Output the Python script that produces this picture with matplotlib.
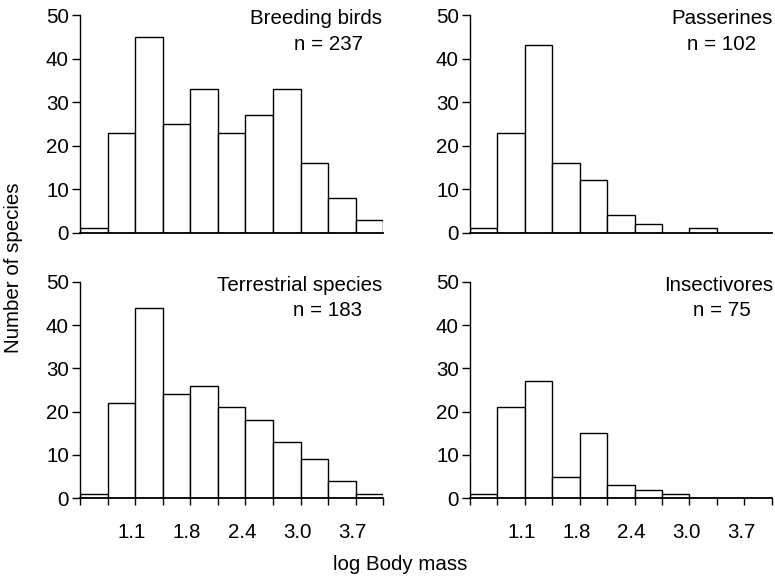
import matplotlib
matplotlib.use("Agg")
import matplotlib.pyplot as plt
import numpy as np

plt.rcParams['font.family'] = ['Liberation Sans', 'DejaVu Sans']

# Data (11 bins of log body mass)
bin_edges_idx = list(range(12))
tick_labels = ["1.1", "1.8", "2.4", "3.0", "3.7"]
tick_label_edges = [2, 4, 6, 8, 10]

breeding = [1, 23, 45, 25, 33, 23, 27, 33, 16, 8, 3]
passerines = [1, 23, 43, 16, 12, 4, 2, 0, 1, 0, 0]
terrestrial = [1, 22, 44, 24, 26, 21, 18, 13, 9, 4, 1]
insectivores = [1, 21, 27, 5, 15, 3, 2, 1, 0, 0, 0]

titles = ["Breeding birds", "Passerines", "Terrestrial species", "Insectivores"]
ns = ["n = 237", "n = 102", "n = 183", "n = 75"]
series = [breeding, passerines, terrestrial, insectivores]

FS = 14.8

fig = plt.figure(figsize=(7.75, 5.8), dpi=100)
W, H = 775, 580
boxes = [
    (80, 15, 383.3, 232.7),
    (470, 15, 771.7, 232.7),
    (80, 281.7, 383.3, 498.3),
    (470, 281.7, 771.7, 498.3),
]
# text positions in pixels: (x_title, ha_title, x_n, ha_n)
text_pos = [
    (381.7, 'right', 363, 'right'),
    (722.5, 'center', 722, 'center'),
    (382, 'right', 362, 'right'),
    (719, 'center', 721.5, 'center'),
]

for i, (vals, (x0, y0, x1, y1)) in enumerate(zip(series, boxes)):
    ax = fig.add_axes([x0 / W, 1 - y1 / H, (x1 - x0) / W, (y1 - y0) / H])
    left = np.array(bin_edges_idx[:-1])
    ax.bar(left, vals, width=1, align='edge', facecolor='white',
           edgecolor='black', linewidth=1.0)
    ax.set_xlim(0, 11)
    ax.set_ylim(0, 50)
    for s in ['top', 'right']:
        ax.spines[s].set_visible(False)
    ax.spines['left'].set_linewidth(1.0)
    ax.spines['bottom'].set_linewidth(1.3)
    ax.set_yticks([0, 10, 20, 30, 40, 50])
    ax.tick_params(axis='y', direction='out', length=6, width=1.0, pad=2,
                   labelsize=FS)
    if i < 2:
        ax.set_xticks([])
    else:
        ax.set_xticks(bin_edges_idx)
        ax.set_xticklabels([])
        ax.tick_params(axis='x', which='major', direction='out', length=5,
                       width=1.0)
        ax.set_xticks([e - 0.12 for e in tick_label_edges], minor=True)
        ax.set_xticklabels(tick_labels, minor=True)
        ax.tick_params(axis='x', which='minor', length=0, pad=18,
                       labelsize=FS)
    xt, hat, xn, han = text_pos[i]
    dy = 0 if i < 2 else 266.7
    fig.text(xt / W, 1 - (19 + dy) / H, titles[i],
             ha=hat, va='center', fontsize=FS)
    fig.text(xn / W, 1 - (44 + dy) / H, ns[i],
             ha=han, va='center', fontsize=FS)

fig.text(14 / W, 1 - 268 / H, "Number of species", rotation=90,
         ha='center', va='center', fontsize=FS)
fig.text(400 / W, 1 - 565 / H, "log Body mass", ha='center', va='center',
         fontsize=FS)

fig.savefig("out.png", dpi=100, facecolor='white')
